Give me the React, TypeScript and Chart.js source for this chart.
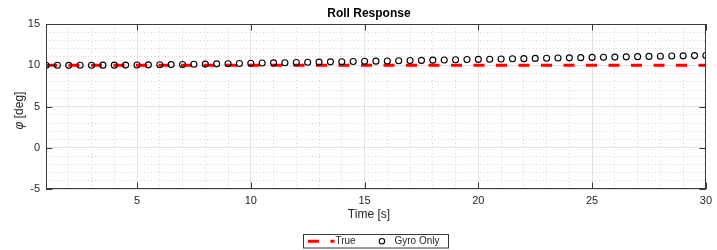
import React, { useEffect, useRef } from "react";
import { Chart, registerables } from "chart.js";

Chart.register(...registerables);

const TIME = [
  1, 1.5, 2, 2.5, 3, 3.5, 4, 4.5, 5, 5.5, 6, 6.5, 7, 7.5, 8, 8.5, 9, 9.5, 10, 10.5,
  11, 11.5, 12, 12.5, 13, 13.5, 14, 14.5, 15, 15.5, 16, 16.5, 17, 17.5, 18, 18.5, 19, 19.5, 20, 20.5,
  21, 21.5, 22, 22.5, 23, 23.5, 24, 24.5, 25, 25.5, 26, 26.5, 27, 27.5, 28, 28.5, 29, 29.5, 30,
];
const GYRO_ROLL = [
  10.0, 10.0, 9.99, 10.0, 10.0, 10.01, 10.01, 10.02, 10.03, 10.05, 10.06, 10.08, 10.1, 10.12, 10.14, 10.17, 10.19, 10.22, 10.24, 10.27,
  10.29, 10.31, 10.34, 10.36, 10.38, 10.41, 10.43, 10.45, 10.48, 10.5, 10.52, 10.55, 10.57, 10.59, 10.62, 10.64, 10.66, 10.69, 10.71, 10.73,
  10.76, 10.78, 10.8, 10.83, 10.85, 10.87, 10.9, 10.92, 10.95, 10.97, 10.99, 11.02, 11.04, 11.07, 11.09, 11.12, 11.14, 11.17, 11.19,
];
const TRUE_TIME = [1, 30];
const TRUE_ROLL = [10, 10];

const X_GRID = [1, 2, 3, 4, 5, 6, 7, 8, 9, 10, 11, 12, 13, 14, 15, 16, 17, 18, 19, 20, 21, 22, 23, 24, 25, 26, 27, 28, 29, 30];
const X_LABELS = [5, 10, 15, 20, 25, 30];
const Y_GRID = [-5, -4, -3, -2, -1, 0, 1, 2, 3, 4, 5, 6, 7, 8, 9, 10, 11, 12, 13, 14, 15];
const Y_LABELS = [-5, 0, 5, 10, 15];

const TITLE = "Roll Response";
const X_TITLE = "Time [s]";
const Y_SYMBOL = "\u03C6";
const Y_UNIT = " [deg]";
const SERIES_LABELS = ["True", "Gyro Only"];

const FONT = "'Liberation Sans', Arial, Helvetica, sans-serif";
const TEXT = "#262626";
const AXIS = "#3a3a3a";
const MAJOR_GRID = "#e3e3e3";
const MINOR_GRID = "#d6d6d6";

const decorPlugin = {
  id: "decor",
  afterDraw(chart: any) {
    const { ctx, chartArea } = chart;
    const { left, right, top, bottom } = chartArea;
    const xs = chart.scales.x;
    const ys = chart.scales.y;
    const cx = (left + right) / 2;
    ctx.save();

    // axes box
    ctx.strokeStyle = AXIS;
    ctx.lineWidth = 1;
    ctx.setLineDash([]);
    ctx.strokeRect(Math.round(left) + 0.5, Math.round(top) + 0.5, Math.round(right - left) - 1, Math.round(bottom - top) - 1);

    // inward ticks
    const tl = 6.5;
    ctx.beginPath();
    X_LABELS.forEach((v) => {
      const px = Math.round(xs.getPixelForValue(v)) + 0.5;
      ctx.moveTo(px, bottom);
      ctx.lineTo(px, bottom - tl);
      ctx.moveTo(px, top);
      ctx.lineTo(px, top + tl);
    });
    Y_LABELS.forEach((v) => {
      const py = Math.round(ys.getPixelForValue(v)) + 0.5;
      ctx.moveTo(left, py);
      ctx.lineTo(left + tl, py);
      ctx.moveTo(right, py);
      ctx.lineTo(right - tl, py);
    });
    ctx.stroke();

    // title
    ctx.fillStyle = "#000";
    ctx.font = `bold 12px ${FONT}`;
    ctx.textAlign = "center";
    ctx.textBaseline = "middle";
    ctx.fillText(TITLE, cx - 7, 14);

    // x title
    ctx.fillStyle = TEXT;
    ctx.font = `12px ${FONT}`;
    ctx.fillText(X_TITLE, cx - 7, 215);

    // y title (rotated)
    ctx.save();
    ctx.translate(20, (top + bottom) / 2 + 4);
    ctx.rotate(-Math.PI / 2);
    ctx.font = `italic 12px ${FONT}`;
    const w1 = ctx.measureText(Y_SYMBOL).width;
    ctx.font = `12px ${FONT}`;
    const w2 = ctx.measureText(Y_UNIT).width;
    const start = -(w1 + w2) / 2;
    ctx.textAlign = "left";
    ctx.font = `italic 12px ${FONT}`;
    ctx.fillText(Y_SYMBOL, start, 0);
    ctx.font = `12px ${FONT}`;
    ctx.fillText(Y_UNIT, start + w1, 0);
    ctx.restore();

    // legend
    const ds0 = chart.data.datasets[0];
    const ds1 = chart.data.datasets[1];
    const lw = 145;
    const lh = 13.5;
    const lx = cx - lw / 2;
    const ly = 234;
    ctx.fillStyle = "#fff";
    ctx.fillRect(lx, ly, lw, lh);
    ctx.strokeStyle = AXIS;
    ctx.lineWidth = 1;
    ctx.strokeRect(Math.round(lx) + 0.5, Math.round(ly) + 0.5, lw, lh);
    const my = ly + lh / 2 + 0.5;
    ctx.strokeStyle = ds0.borderColor;
    ctx.lineWidth = ds0.borderWidth;
    ctx.setLineDash(ds0.borderDash);
    ctx.beginPath();
    ctx.moveTo(lx + 4.5, my);
    ctx.lineTo(lx + 31, my);
    ctx.stroke();
    ctx.setLineDash([]);
    ctx.fillStyle = TEXT;
    ctx.font = `10px ${FONT}`;
    ctx.textAlign = "left";
    ctx.textBaseline = "middle";
    ctx.fillText(ds0.label, lx + 32, my);
    ctx.strokeStyle = ds1.borderColor;
    ctx.lineWidth = ds1.borderWidth;
    ctx.beginPath();
    ctx.arc(lx + 78.5, my, ds1.pointRadius - 0.3, 0, Math.PI * 2);
    ctx.stroke();
    ctx.fillText(ds1.label, lx + 91, my);

    ctx.restore();
  },
};

export default function App() {
  const ref = useRef<HTMLCanvasElement | null>(null);

  useEffect(() => {
    document.body.style.margin = "0";
    const canvas = ref.current;
    if (!canvas) return;
    const chart = new Chart(canvas, {
      type: "scatter",
      data: {
        datasets: [
          {
            label: SERIES_LABELS[0],
            data: TRUE_TIME.map((t, i) => ({ x: t, y: TRUE_ROLL[i] })),
            showLine: true,
            borderColor: "#ff0000",
            backgroundColor: "#ff0000",
            borderWidth: 3,
            borderDash: [11, 11.5],
            pointRadius: 0,
            order: 2,
          },
          {
            label: SERIES_LABELS[1],
            data: TIME.map((t, i) => ({ x: t, y: GYRO_ROLL[i] })),
            showLine: false,
            borderColor: "#000000",
            backgroundColor: "rgba(0,0,0,0)",
            borderWidth: 1.1,
            pointRadius: 3,
            pointStyle: "circle",
            order: 1,
          },
        ],
      },
      plugins: [decorPlugin],
      options: {
        animation: false,
        responsive: false,
        maintainAspectRatio: false,
        layout: { padding: { left: 0, right: 5, top: 24, bottom: 25 } },
        plugins: {
          legend: { display: false },
          title: { display: false },
          tooltip: { enabled: false },
        },
        scales: {
          x: {
            type: "linear",
            min: 1,
            max: 30,
            afterBuildTicks: (scale: any) => {
              scale.ticks = X_GRID.map((v) => ({ value: v }));
            },
            afterFit: (scale: any) => {
              scale.height = 36;
            },
            ticks: {
              autoSkip: false,
              maxRotation: 0,
              padding: 5,
              color: TEXT,
              font: { family: FONT, size: 11 },
              callback: (v: any) => (X_LABELS.includes(Number(v)) ? String(v) : ""),
            },
            grid: {
              drawTicks: false,
              color: (c: any) => (c.tick && X_LABELS.includes(c.tick.value) ? MAJOR_GRID : MINOR_GRID),
              lineWidth: 1,
            },
            border: {
              display: false,
              dash: (c: any) => (c.tick && !X_LABELS.includes(c.tick.value) ? [1, 2.5] : []),
            },
          },
          y: {
            type: "linear",
            min: -5,
            max: 15,
            afterBuildTicks: (scale: any) => {
              scale.ticks = Y_GRID.map((v) => ({ value: v }));
            },
            afterFit: (scale: any) => {
              scale.width = 46;
            },
            ticks: {
              autoSkip: false,
              padding: 6,
              color: TEXT,
              font: { family: FONT, size: 11 },
              callback: (v: any) => (Y_LABELS.includes(Number(v)) ? String(v) : ""),
            },
            grid: {
              drawTicks: false,
              color: (c: any) => (c.tick && Y_LABELS.includes(c.tick.value) ? MAJOR_GRID : MINOR_GRID),
              lineWidth: 1,
            },
            border: {
              display: false,
              dash: (c: any) => (c.tick && !Y_LABELS.includes(c.tick.value) ? [1, 2.5] : []),
            },
          },
        },
      },
    } as any);
    return () => chart.destroy();
  }, []);

  return (
    <div style={{ width: 717, height: 250, background: "#fff" }}>
      <canvas ref={ref} width={717} height={250} style={{ display: "block", width: 717, height: 250 }} />
    </div>
  );
}
